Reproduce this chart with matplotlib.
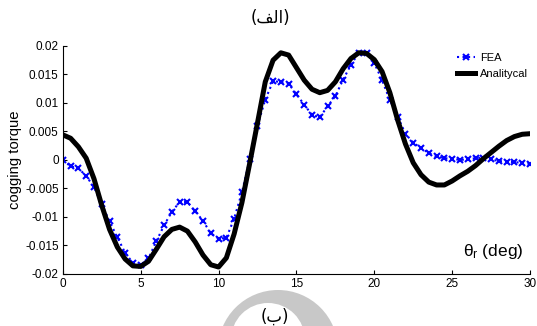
import numpy as np
import matplotlib
matplotlib.use("Agg")
import matplotlib.pyplot as plt
from matplotlib.patches import Ellipse

plt.rcParams['font.family'] = ['Liberation Sans', 'DejaVu Sans']
plt.rcParams['mathtext.fontset'] = 'custom'
plt.rcParams['mathtext.rm'] = 'Liberation Sans'
plt.rcParams['mathtext.it'] = 'Liberation Sans'

# rotor angle (deg), sample step 0.5
theta = np.arange(0, 30.01, 0.5)

# FEA cogging torque
fea = [-0.0001, -0.0011, -0.0015, -0.0028, -0.0048, -0.0078, -0.0108, -0.0136,
       -0.0163, -0.0181, -0.0185, -0.0173, -0.0143, -0.0115, -0.0091, -0.0074,
       -0.0074, -0.0090, -0.0107, -0.0129, -0.0138, -0.0137, -0.0103, -0.0057,
       0.0001, 0.0060, 0.0106, 0.0138, 0.0137, 0.0134, 0.0115, 0.0097,
       0.0079, 0.0075, 0.0094, 0.0112, 0.0141, 0.0167, 0.0188, 0.0188,
       0.0170, 0.0140, 0.0105, 0.0076, 0.0046, 0.0030, 0.0021, 0.0012,
       0.0006, 0.0003, 0.0002, 0.0000, 0.0001, 0.0003, 0.0004, 0.0001,
       -0.0002, -0.0003, -0.0004, -0.0005, -0.0007]

# analytical cogging torque
analytical = [0.0044, 0.0038, 0.0023, 0.0003, -0.0033, -0.0080, -0.0122, -0.0153,
              -0.0174, -0.0186, -0.0187, -0.0178, -0.0157, -0.0135, -0.0122, -0.0118,
              -0.0125, -0.0144, -0.0167, -0.0184, -0.0188, -0.0172, -0.0130, -0.0075,
              -0.0006, 0.0065, 0.0137, 0.0175, 0.0188, 0.0184, 0.0162, 0.0140,
              0.0124, 0.0118, 0.0122, 0.0137, 0.0160, 0.0178, 0.0188, 0.0187,
              0.0176, 0.0155, 0.0118, 0.0070, 0.0028, -0.0005, -0.0026, -0.0039,
              -0.0044, -0.0044, -0.0037, -0.0028, -0.0020, -0.0010, 0.0002, 0.0013,
              0.0024, 0.0034, 0.0041, 0.0045, 0.0046]

xticks = [0, 5, 10, 15, 20, 25, 30]
yticks = [-0.02, -0.015, -0.01, -0.005, 0, 0.005, 0.01, 0.015, 0.02]
ytick_labels = ["-0.02", "-0.015", "-0.01", "-0.005", "0", "0.005", "0.01", "0.015", "0.02"]

fig = plt.figure(figsize=(5.37, 3.26), dpi=100)

# background watermark (grey arc) in pixel coordinates
bg = fig.add_axes([0, 0, 1, 1], zorder=0)
bg.set_xlim(0, 537)
bg.set_ylim(326, 0)
bg.axis("off")
bg.add_patch(Ellipse((278, 350), 120, 120, color="#c8c8c8", lw=0))
bg.add_patch(Ellipse((268, 340), 74, 74, color="white", lw=0))

ax = fig.add_axes([0.117, 0.160, 0.870, 0.699], zorder=1)
ax.patch.set_alpha(0)

ax.plot(theta, fea, color="blue", linestyle=":", linewidth=1.5,
        marker="x", markersize=5, markeredgewidth=1.5, label="FEA")
ax.plot(theta, analytical, color="black", linewidth=3.6, label="Analitycal")

ax.set_xlim(0, 30)
ax.set_ylim(-0.02, 0.02)
ax.set_xticks(xticks)
ax.set_yticks(yticks)
ax.set_yticklabels(ytick_labels)
ax.tick_params(direction="in", length=3, width=0.8, labelsize=8.5, pad=3)
for s in ["top", "right"]:
    ax.spines[s].set_visible(False)
for s in ["left", "bottom"]:
    ax.spines[s].set_linewidth(0.8)

ax.set_ylabel("cogging torque", fontsize=10.7, labelpad=2)
# x label sits inside the axes, MATLAB style
ax.text(0.985, 0.10, r"$\theta_{\mathregular{r}}$ (deg)", transform=ax.transAxes,
        ha="right", va="center", fontsize=12.5)

ax.legend(loc="upper right", bbox_to_anchor=(0.995, 0.97), frameon=False,
          fontsize=8, handlelength=1.6, handletextpad=0.4, labelspacing=0.55,
          borderaxespad=0, borderpad=0, numpoints=1)

# captions (Arabic presentation forms, visual order)
fig.text(0.503, 0.945, "(\uFED2\uFEDF\uFE8D)", ha="center", va="center",
         fontsize=12, family=["DejaVu Sans"])
fig.text(0.512, 0.03, "(\uFE8F)", ha="center", va="center",
         fontsize=12, family=["DejaVu Sans"])

fig.savefig("out.png", dpi=100)
